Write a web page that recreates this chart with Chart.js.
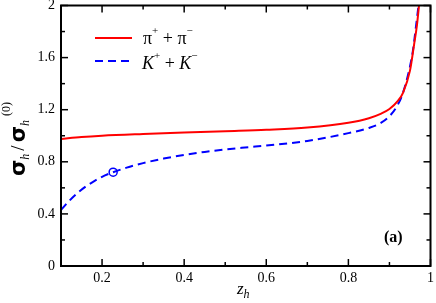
<!DOCTYPE html>
<html><head><meta charset="utf-8">
<script src="https://cdn.jsdelivr.net/npm/chart.js@4/dist/chart.umd.min.js"></script>
<style>html,body{margin:0;padding:0;background:#fff;}#wrap{width:436px;height:303px;position:relative;}</style>
</head><body><div id="wrap"><canvas id="c" width="436" height="303"></canvas></div>
<script>
// ---- data ----
const zPi   = [0.1, 0.15, 0.2, 0.3, 0.4, 0.5, 0.6, 0.7, 0.8, 0.85, 0.88, 0.9, 0.92, 0.933, 0.95, 0.96, 0.967, 0.973];
const piSum = [0.975, 0.99, 1.0, 1.013, 1.024, 1.035, 1.046, 1.063, 1.10, 1.135, 1.17, 1.205, 1.265, 1.33, 1.50, 1.70, 1.85, 2.03];
const zK    = [0.1, 0.12, 0.14, 0.16, 0.18, 0.2, 0.227, 0.26, 0.3, 0.35, 0.4, 0.45, 0.5, 0.56, 0.6, 0.7, 0.8, 0.85, 0.88, 0.9, 0.917, 0.933, 0.957, 0.965, 0.972];
const kSum  = [0.43, 0.50, 0.56, 0.61, 0.65, 0.685, 0.72, 0.755, 0.79, 0.825, 0.853, 0.876, 0.895, 0.913, 0.925, 0.96, 1.02, 1.06, 1.10, 1.15, 1.22, 1.33, 1.65, 1.85, 2.03];
const markerZ = [0.227];
const markerY = [0.72];
const xTicks = [0.2, 0.4, 0.6, 0.8, 1];
const xMinor = [0.3, 0.5, 0.7, 0.9];
const yTicks = [0, 0.4, 0.8, 1.2, 1.6, 2];
const yMinor = [0.2, 0.6, 1.0, 1.4, 1.8];

const pts = (xs, ys) => xs.map((x, i) => ({x: x, y: ys[i]}));
const SERIF = '"Liberation Serif", "Times New Roman", serif';
Chart.defaults.font.family = SERIF;

function drawRich(ctx, parts, x, y) {
  // parts: [text, fontSize, dy, style, family, extraGap]
  let cx = x;
  for (const p of parts) {
    ctx.font = (p[3] || '') + ' ' + p[1] + 'px ' + (p[4] || SERIF);
    ctx.fillText(p[0], cx, y + p[2]);
    cx += ctx.measureText(p[0]).width + (p[5] || 0);
  }
  return cx - x;
}

const framePlugin = {
  id: 'frame',
  afterDatasetsDraw(chart) {
    const ctx = chart.ctx, a = chart.chartArea;
    const xs = chart.scales.x, ys = chart.scales.y;
    ctx.save();
    ctx.strokeStyle = '#000';
    ctx.lineWidth = 1.5;
    const tick = (x1, y1, x2, y2) => { ctx.beginPath(); ctx.moveTo(x1, y1); ctx.lineTo(x2, y2); ctx.stroke(); };
    for (const v of xTicks) { const p = xs.getPixelForValue(v); tick(p, a.bottom, p, a.bottom - 7); tick(p, a.top, p, a.top + 7); }
    for (const v of xMinor) { const p = xs.getPixelForValue(v); tick(p, a.bottom, p, a.bottom - 4); tick(p, a.top, p, a.top + 4); }
    for (const v of yTicks) { const p = ys.getPixelForValue(v); tick(a.left, p, a.left + 7, p); tick(a.right, p, a.right - 7, p); }
    for (const v of yMinor) { const p = ys.getPixelForValue(v); tick(a.left, p, a.left + 4, p); tick(a.right, p, a.right - 4, p); }
    ctx.lineWidth = 2;
    ctx.strokeRect(a.left, a.top, a.right - a.left, a.bottom - a.top);

    // legend
    ctx.lineWidth = 2;
    ctx.strokeStyle = '#ff0000';
    ctx.setLineDash([]);
    tick(95, 38, 132, 38);
    ctx.strokeStyle = '#0000ff';
    ctx.setLineDash([8, 5]);
    tick(95, 61, 133, 61);
    ctx.setLineDash([]);
    ctx.fillStyle = '#000';
    ctx.textBaseline = 'alphabetic';
    ctx.textAlign = 'left';
    drawRich(ctx, [['π', 18, 0], ['+', 11, -10], [' + ', 18, 0], ['π', 18, 0], ['−', 11, -10]], 143, 44);
    drawRich(ctx, [['K', 18, 0, 'italic'], ['+', 11, -10], [' + ', 18, 0], ['K', 18, 0, 'italic'], ['−', 11, -10]], 142, 69);

    // (a)
    ctx.font = 'bold 16px ' + SERIF;
    ctx.fillText('(a)', 384, 242);

    // x title
    drawRich(ctx, [['z', 17, 0, 'italic'], ['h', 12, 4, 'italic']], 237, 294);

    // y title rotated
    ctx.save();
    ctx.translate(25, 176);
    ctx.rotate(-Math.PI / 2);
    const SANS = '"DejaVu Sans", sans-serif';
    drawRich(ctx, [['σ', 21, 0, 'bold', SANS], ['h', 12, 4, 'italic', SERIF, 3], ['/', 19, -1, '', SERIF, 3], ['σ', 21, 0, 'bold', SANS], ['h', 12, 4, 'italic']], 0, 0);
    ctx.restore();
    ctx.save();
    ctx.translate(10, 116);
    ctx.rotate(-Math.PI / 2);
    ctx.font = '12px ' + SERIF;
    ctx.fillText('(0)', 0, 0);
    ctx.restore();
    ctx.restore();
  }
};

new Chart(document.getElementById('c'), {
  type: 'scatter',
  data: {
    datasets: [
      { label: 'π+ + π−', data: pts(zPi, piSum), showLine: true, borderColor: '#ff0000', borderWidth: 2, pointRadius: 0, cubicInterpolationMode: 'monotone', fill: false },
      { label: 'K+ + K−', data: pts(zK, kSum), showLine: true, borderColor: '#0000ff', borderWidth: 2, borderDash: [8, 5], pointRadius: 0, cubicInterpolationMode: 'monotone', fill: false },
      { label: 'marker', data: pts(markerZ, markerY), showLine: false, pointRadius: 4, pointBorderWidth: 1.5, pointBorderColor: '#0000ff', pointBackgroundColor: '#ffffff' }
    ]
  },
  options: {
    responsive: false,
    animation: false,
    layout: { padding: { top: 5, right: 5, left: 0, bottom: 0 } },
    plugins: { legend: { display: false }, tooltip: { enabled: false } },
    scales: {
      x: {
        type: 'linear', min: 0.1, max: 1,
        grid: { display: false, drawTicks: false },
        border: { display: false },
        afterBuildTicks: s => { s.ticks = xTicks.map(v => ({value: v})); },
        afterFit: s => { s.height = 37; s.paddingLeft = 0; s.paddingRight = 0; },
        ticks: { color: '#000', padding: 4, maxRotation: 0, autoSkip: false, font: { family: SERIF, size: 14 }, callback: v => String(v) }
      },
      y: {
        type: 'linear', min: 0, max: 2,
        grid: { display: false, drawTicks: false },
        border: { display: false },
        afterBuildTicks: s => { s.ticks = yTicks.map(v => ({value: v})); },
        afterFit: s => { s.width = 61; s.paddingTop = 0; s.paddingBottom = 0; },
        ticks: { color: '#000', padding: 6, autoSkip: false, font: { family: SERIF, size: 14 }, callback: v => String(v) }
      }
    }
  },
  plugins: [framePlugin]
});
</script></body></html>
